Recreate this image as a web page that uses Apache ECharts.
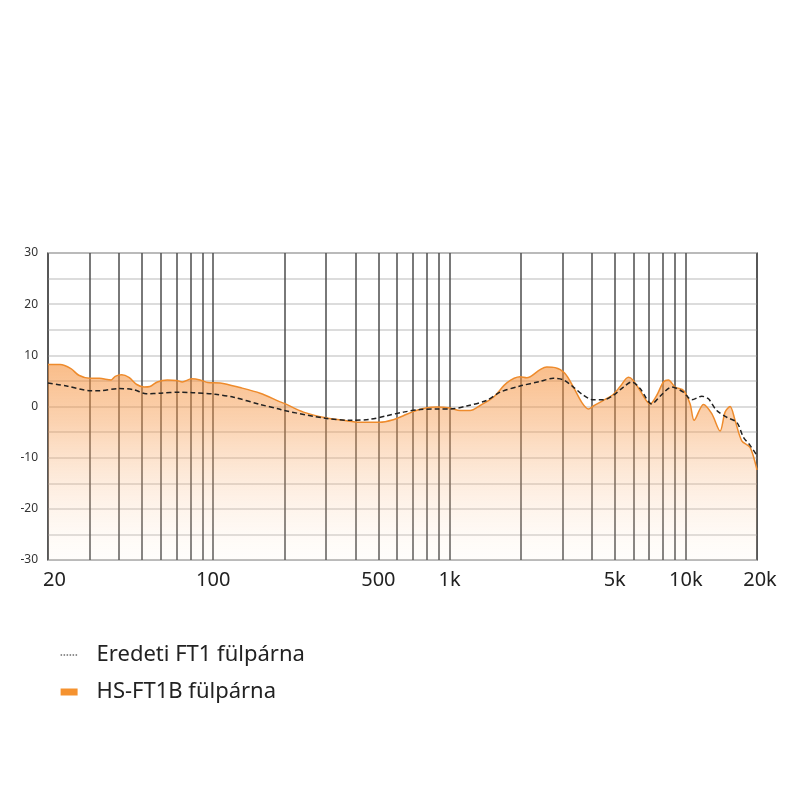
<!DOCTYPE html>
<html>
<head>
<meta charset="utf-8">
<style>
  html, body { margin: 0; padding: 0; background: #fff; }
  #chart { width: 800px; height: 800px; }
</style>
<script src="https://cdn.jsdelivr.net/npm/echarts@6/dist/echarts.min.js"></script>
</head>
<body>
<div id="chart"></div>
<script>
// frequency response, Hz / dB
const hsFreq = [20, 22.5, 25, 27, 30, 33, 37, 38.5, 41, 44, 47.5, 51, 54, 58, 64, 70, 74, 81, 88, 95, 107, 130, 158, 192, 200,
  241, 299, 355, 418, 505, 578, 638, 703, 793, 883, 1005, 1108, 1222, 1347, 1533, 1747, 1989, 2122, 2417,
  2580, 2797, 3075, 3343, 3627, 3868, 4062, 4478, 4937, 5271, 5713, 5963, 6403, 7059, 7535, 8035, 8437, 9004,
  9804, 10424, 10838, 11866, 12872, 13960, 14655, 15386, 16152, 17240, 18701, 20000]
const hsDb = [8.2, 8.2, 7.4, 6.1, 5.5, 5.5, 5.2, 5.9, 6.2, 5.7, 4.3, 3.8, 3.9, 4.8, 5.2, 5.1, 4.8, 5.4, 5.2, 4.7, 4.6, 3.7, 2.6, 0.9, 0.6,
  -1.1, -2.2, -2.7, -3.1, -3.1, -2.6, -1.8, -1.0, -0.3, -0.1, -0.3, -0.8, -0.8, 0.2, 1.8, 4.6, 5.8, 5.6, 7.2,
  7.7, 7.6, 6.5, 3.8, 0.8, -0.5, 0.1, 1.2, 2.4, 3.9, 5.7, 5.2, 3.1, 0.5, 2.2, 4.8, 5.2, 3.8,
  3.1, 0.5, -2.7, 0.4, -1.4, -4.8, -1.1, 0, -2.7, -6.7, -8.0, -12.4]

const ft1Freq = [20, 24, 30.4, 33, 40, 46, 52, 60, 72, 82, 102, 122, 158, 190, 200,
  299, 380, 461, 543, 638, 750, 883, 1005, 1183, 1437, 1636, 1989, 2417,
  2751, 3033, 3343, 3684, 4062, 4478, 4937, 5443, 5905, 6403, 7177, 7780, 8716,
  9761, 10596, 11680, 12458, 13514, 14899, 16427, 17522, 18701, 20000]
const ft1Db = [4.6, 4.0, 3.1, 3.1, 3.5, 3.3, 2.5, 2.6, 2.8, 2.7, 2.4, 1.8, 0.4, -0.5, -0.8,
  -2.3, -2.7, -2.5, -1.8, -1.1, -0.6, -0.5, -0.5, 0.1, 1.2, 2.8, 4.0, 4.9,
  5.5, 5.2, 3.8, 2.2, 1.3, 1.3, 2.2, 3.8, 4.8, 3.5, 0.5, 2.0, 3.8,
  2.8, 1.3, 2.0, 1.5, -0.8, -2.1, -3.1, -6.0, -7.6, -9.6]

const gridFreqs = [20, 30, 40, 50, 60, 70, 80, 90, 100, 200, 300, 400, 500, 600, 700, 800, 900,
  1000, 2000, 3000, 4000, 5000, 6000, 7000, 8000, 9000, 10000, 20000]
const tickFreqs = [20, 100, 500, 1000, 5000, 10000, 20000]
const tickLabels = ['20', '100', '500', '1k', '5k', '10k', '20k']

const seriesNames = ['Eredeti FT1 fülpárna', 'HS-FT1B fülpárna']

const lg = Math.log10
const toPoints = (fs, ds) => fs.map((f, i) => [lg(f), ds[i]])
const tickVals = tickFreqs.map(lg)

const chart = echarts.init(document.getElementById('chart'))

chart.setOption({
  animation: false,
  textStyle: { fontFamily: 'Noto Sans' },
  grid: {
    left: 48,
    right: 43,
    top: 253,
    bottom: 240,
    show: true,
    borderColor: '#4d4d4d',
    borderWidth: 1.5
  },
  legend: {
    orient: 'vertical',
    left: 55,
    top: 639,
    itemWidth: 17,
    itemHeight: 7,
    itemGap: 15,
    textStyle: { fontSize: 22, color: '#222', padding: [0, 0, 0, 14] },
    data: [
      {
        name: seriesNames[0],
        itemStyle: { opacity: 0 },
        lineStyle: { type: [1.5, 1.5], width: 1.2, color: '#222' }
      },
      { name: seriesNames[1], icon: 'rect', itemStyle: { color: '#f5922f' } }
    ]
  },
  xAxis: {
    type: 'value',
    min: lg(20),
    max: lg(20000),
    axisLine: { show: false },
    axisTick: { show: false, customValues: gridFreqs.map(lg) },
    axisLabel: {
      customValues: tickVals,
      fontSize: 20,
      color: '#222',
      margin: 10,
      formatter: function (v) {
        const i = tickVals.findIndex(t => Math.abs(t - v) < 1e-6)
        if (i === 0) return '{first|' + tickLabels[i] + '}'
        if (i === tickVals.length - 1) return '{last|' + tickLabels[i] + '}'
        return i >= 0 ? tickLabels[i] : ''
      },
      rich: {
        first: { fontSize: 20, color: '#222', padding: [0, 0, 0, 13] },
        last: { fontSize: 20, color: '#222', padding: [0, 0, 0, 6] }
      }
    },
    splitLine: { show: true, lineStyle: { color: '#4d4d4d', width: 1.5 } }
  },
  yAxis: {
    type: 'value',
    min: -30,
    max: 30,
    interval: 5,
    axisLine: { show: false },
    axisTick: { show: false },
    axisLabel: {
      fontSize: 12,
      color: '#333',
      margin: 10,
      formatter: v => (v % 10 === 0 ? String(v) : '')
    },
    splitLine: { show: true, lineStyle: { color: '#d0d0d0', width: 1.5 } }
  },
  series: [
    {
      name: seriesNames[1],
      type: 'line',
      data: toPoints(hsFreq, hsDb),
      smooth: 0.3,
      symbol: 'none',
      lineStyle: { color: '#ee8b2c', width: 1.5 },
      itemStyle: { color: '#f5922f' },
      areaStyle: {
        origin: 'start',
        color: new echarts.graphic.LinearGradient(0, 0, 0, 1, [
          { offset: 0, color: 'rgba(245,140,50,0.82)' },
          { offset: 0.3, color: 'rgba(246,150,70,0.6)' },
          { offset: 0.65, color: 'rgba(250,190,140,0.35)' },
          { offset: 1, color: 'rgba(255,235,215,0.12)' }
        ])
      }
    },
    {
      name: seriesNames[0],
      type: 'line',
      data: toPoints(ft1Freq, ft1Db),
      smooth: 0.3,
      symbol: 'none',
      lineStyle: { color: '#222', width: 1.5, type: [5, 3] },
      itemStyle: { color: '#222' }
    }
  ]
})
</script>
</body>
</html>
